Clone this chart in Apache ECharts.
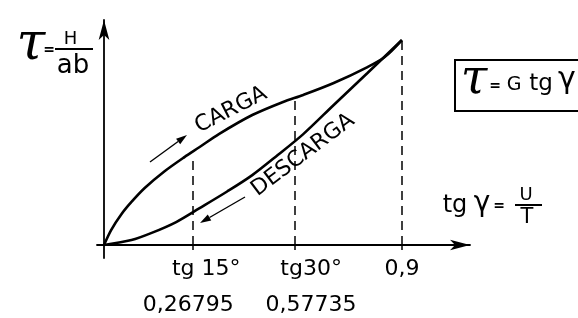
<!DOCTYPE html>
<html><head><meta charset="utf-8">
<script src="https://cdn.jsdelivr.net/npm/echarts@6/dist/echarts.min.js"></script>
<style>html,body{margin:0;padding:0;background:#fff}#c{width:578px;height:318px}</style>
</head><body><div id="c"></div>
<script>
// ---- data ----
const cargaX    = [0, 0.0215, 0.052, 0.083, 0.123, 0.184, 0.243, 0.289, 0.347, 0.448, 0.541, 0.602, 0.694, 0.796, 0.848, 0.9];
const cargaY    = [0, 0.073, 0.149, 0.210, 0.278, 0.361, 0.429, 0.478, 0.541, 0.634, 0.698, 0.732, 0.790, 0.868, 0.917, 1.0];
const descargaX = [0, 0.083, 0.144, 0.218, 0.289, 0.372, 0.448, 0.525, 0.602, 0.694, 0.796, 0.9];
const descargaY = [0, 0.024, 0.059, 0.112, 0.180, 0.261, 0.341, 0.439, 0.541, 0.683, 0.839, 1.0];
const tickValues  = [0.26795, 0.57735, 0.9];
const tickAngles  = ['tg 15°', 'tg30°', ''];
const tickNumbers = ['0,26795', '0,57735', '0,9'];

function interp(xs, ys, v) {
  for (let i = 1; i < xs.length; i++) {
    if (v <= xs[i]) { const t = (v - xs[i-1]) / (xs[i] - xs[i-1]); return ys[i-1] + t * (ys[i] - ys[i-1]); }
  }
  return ys[ys.length - 1];
}
const zip = (a, b) => a.map((x, i) => [x, b[i]]);

const FONT = '"DejaVu Sans", sans-serif';
const chart = echarts.init(document.getElementById('c'), null, {renderer: 'canvas'});

function arrowGraphics(x1, y1, x2, y2) {
  const dx = x2 - x1, dy = y2 - y1, L = Math.hypot(dx, dy), ux = dx / L, uy = dy / L;
  const hl = 11, hw = 3.5;
  const bx = x2 - ux * hl, by = y2 - uy * hl;
  return [
    {type: 'line', shape: {x1, y1, x2: bx, y2: by}, style: {stroke: '#000', lineWidth: 1.4}},
    {type: 'polygon', shape: {points: [[x2, y2], [bx - uy * hw, by + ux * hw], [bx + uy * hw, by - ux * hw]]}, style: {fill: '#000'}}
  ];
}
function txt(text, x, y, font, extra) {
  return Object.assign({type: 'text', x, y, style: {text, font, fill: '#000', align: 'center', verticalAlign: 'middle'}}, extra || {});
}
const deg = Math.PI / 180;

const option = {
  backgroundColor: '#fff',
  animation: false,
  grid: {left: 97, right: 108, top: 20, bottom: 60, containLabel: false, outerBoundsMode: 'none'},
  xAxis: {
    type: 'value', min: -0.02115, max: 1.1057,
    axisLine: {onZero: true, symbol: ['none', 'arrow'], symbolSize: [8, 20], lineStyle: {color: '#000', width: 1.8}},
    axisTick: {show: true, customValues: tickValues, length: 5, lineStyle: {color: '#000', width: 1.5}},
    axisLabel: {
      // a blank label at the origin keeps the min/max-overlap check away from the real labels
      customValues: [0].concat(tickValues), margin: -4, color: '#000', fontFamily: FONT, fontSize: 22,
      hideOverlap: false, showMinLabel: true, showMaxLabel: true,
      formatter: function (v) {
        const i = tickValues.findIndex(t => Math.abs(t - v) < 1e-6);
        if (i === 0) return '{a1|' + tickAngles[0] + '}\n{b1|' + tickNumbers[0] + '}';
        if (i === 1) return '{a2|' + tickAngles[1] + '}\n{b2|' + tickNumbers[1] + '}';
        if (i === 2) return '{c|' + tickNumbers[2] + '}';
        return '';
      },
      rich: {
        a1: {fontFamily: FONT, fontSize: 22, lineHeight: 30, color: '#000', padding: [0, 0, 0, 27]},
        b1: {fontFamily: FONT, fontSize: 22, lineHeight: 42, color: '#000', padding: [0, 9, 0, 0]},
        a2: {fontFamily: FONT, fontSize: 22, lineHeight: 30, color: '#000', padding: [0, 0, 0, 32]},
        b2: {fontFamily: FONT, fontSize: 22, lineHeight: 42, color: '#000', padding: [0, 0, 0, 32]},
        c:  {fontFamily: FONT, fontSize: 22, lineHeight: 30, color: '#000'}
      }
    },
    splitLine: {show: false}
  },
  yAxis: {
    type: 'value', min: -0.0634, max: 1.0976,
    axisLine: {onZero: true, symbol: ['none', 'arrow'], symbolSize: [8, 20], lineStyle: {color: '#000', width: 1.8}},
    axisTick: {show: false}, axisLabel: {show: false}, splitLine: {show: false}
  },
  series: [
    {
      name: 'CARGA', type: 'line', data: zip(cargaX, cargaY), smooth: 0.3, showSymbol: false,
      lineStyle: {color: '#000', width: 2.6}, silent: true,
      markLine: {
        silent: true, symbol: 'none', label: {show: false},
        lineStyle: {color: '#000', width: 1.5, type: [9, 6]},
        data: tickValues.map(v => [{coord: [v, 0]}, {coord: [v, interp(cargaX, cargaY, v) - (v < 0.3 ? 0.02 : 0)]}])
      }
    },
    {
      name: 'DESCARGA', type: 'line', data: zip(descargaX, descargaY), smooth: 0.3, showSymbol: false,
      lineStyle: {color: '#000', width: 2.6}, silent: true
    }
  ],
  graphic: [
    // tau = H / ab
    txt('τ', 31, 45, 'italic 52px "DejaVu Serif", serif'),
    txt('=', 49, 50, 'bold 14px ' + FONT),
    txt('H', 70.5, 39, '18px ' + FONT),
    {type: 'line', shape: {x1: 55, y1: 49, x2: 93, y2: 49}, style: {stroke: '#000', lineWidth: 2}},
    txt('ab', 73, 66.5, '26px ' + FONT),
    // boxed formula
    {type: 'rect', shape: {x: 455, y: 60, width: 140, height: 51}, style: {stroke: '#000', fill: 'none', lineWidth: 2}},
    txt('τ', 474, 81, 'italic 48px "DejaVu Serif", serif'),
    txt('=', 495, 86, 'bold 14px ' + FONT),
    txt('G', 514, 85, '19px ' + FONT),
    txt('tg', 541, 84, '23px ' + FONT),
    txt('γ', 567, 80, '30px ' + FONT),
    // tg gamma = U / T
    txt('tg', 455, 206, '24px ' + FONT),
    txt('γ', 482, 204, '28px ' + FONT),
    txt('=', 499, 206, 'bold 14px ' + FONT),
    {type: 'line', shape: {x1: 515, y1: 205, x2: 542, y2: 205}, style: {stroke: '#000', lineWidth: 2}},
    txt('U', 526, 195.5, '18px ' + FONT),
    txt('T', 527, 217.5, '21px ' + FONT),
    // curve labels
    txt('CARGA', 231, 110, '22px ' + FONT, {rotation: 27 * deg}),
    txt('DESCARGA', 303, 155, '22px ' + FONT, {rotation: 37 * deg})
  ].concat(arrowGraphics(150, 162, 187, 135)).concat(arrowGraphics(245, 197, 200, 223))
};
chart.setOption(option);
</script>
</body></html>
